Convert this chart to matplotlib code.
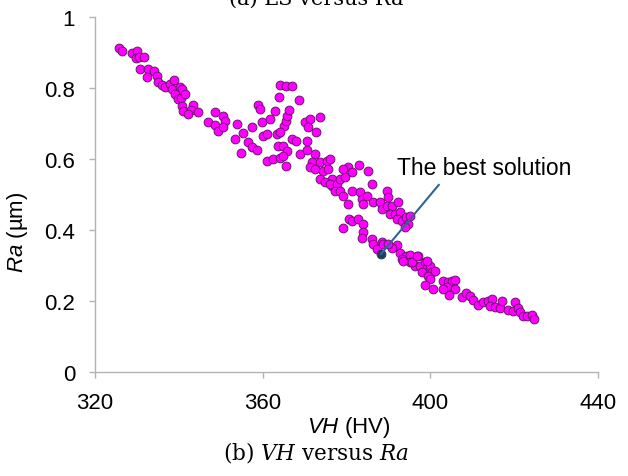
import matplotlib
matplotlib.use("Agg")
import matplotlib.pyplot as plt

plt.rcParams['font.family'] = ['Liberation Sans', 'DejaVu Sans']
plt.rcParams['mathtext.fontset'] = 'custom'
plt.rcParams['mathtext.it'] = 'Liberation Sans:italic'
plt.rcParams['mathtext.rm'] = 'Liberation Sans'

# Pareto solutions: Vickers hardness VH (HV) vs roughness Ra (um)
vh = [325.7, 326.4, 328.9, 330.1, 329.8, 330.5, 331.7, 330.7, 332.6, 334.1,
      332.4, 334.8, 335.0, 336.0, 336.7, 337.8, 338.8, 338.3, 340.3, 340.7,
      339.1, 339.8, 340.5, 341.5, 340.7, 343.4, 342.9, 341.0, 342.2,
      344.6, 348.6, 350.6, 351.1, 346.9, 348.6, 349.4, 350.6, 358.8, 359.3,
      359.8, 361.7, 363.0, 365.1, 365.6, 365.8, 366.2, 363.9, 364.2, 365.6,
      367.0, 368.7, 353.9, 357.5, 370.1, 371.3, 370.8, 373.6,
      353.4, 355.3, 354.8, 356.5, 357.5, 358.6, 360.0, 361.0, 363.4, 364.2,
      363.7, 364.9, 365.8, 367.0, 367.9, 370.6, 372.8, 361.0, 362.5, 364.2,
      364.9, 365.6, 368.9, 370.6, 372.5, 371.8, 371.3, 372.5, 373.6, 375.3,
      376.1, 374.4, 373.6, 375.6, 376.5, 376.5, 374.9, 376.1, 377.8, 378.5,
      379.7, 380.4, 379.2, 377.3, 378.5, 379.2, 380.4, 380.6, 379.2,
      381.3, 383.0, 385.2, 386.1, 381.3, 383.2, 383.7, 383.9, 384.9, 386.4,
      388.0, 389.7, 389.9, 388.4, 389.7, 390.9, 390.4, 392.3, 391.6, 392.8,
      392.1, 393.3, 394.2, 394.7, 394.0, 395.2, 381.3, 382.7, 383.9, 383.9,
      383.7, 386.1, 386.4, 388.4, 387.3,
      388.7, 392.1, 390.9, 392.8, 394.2, 395.2, 393.3, 395.2, 397.0, 396.3,
      397.5, 398.7, 399.2, 400.0, 400.4, 398.0, 401.2, 399.5, 400.0, 398.7,
      400.7, 403.0, 404.2, 405.2, 405.9, 404.0, 405.9, 404.5, 403.0, 407.6,
      408.5, 409.4, 410.2, 411.4, 412.6, 413.8, 414.8, 414.3, 415.4, 416.6,
      417.1, 418.5, 419.7, 420.2, 420.9, 421.4, 422.1, 423.0, 424.2, 424.7,
      395.6, 399.2, 396.8, 389.9, 393.5]
ra = [0.913, 0.904, 0.899, 0.904, 0.885, 0.887, 0.887, 0.854, 0.854, 0.848,
      0.831, 0.834, 0.817, 0.808, 0.803, 0.811, 0.823, 0.797, 0.803, 0.797,
      0.783, 0.769, 0.772, 0.783, 0.749, 0.752, 0.738, 0.735, 0.727,
      0.732, 0.732, 0.721, 0.707, 0.704, 0.696, 0.679, 0.690, 0.752, 0.741,
      0.704, 0.713, 0.735, 0.693, 0.707, 0.721, 0.738, 0.775, 0.808, 0.806,
      0.806, 0.766, 0.699, 0.690, 0.704, 0.713, 0.690, 0.718,
      0.656, 0.673, 0.617, 0.648, 0.634, 0.625, 0.665, 0.670, 0.670, 0.676,
      0.637, 0.637, 0.623, 0.656, 0.651, 0.651, 0.676, 0.594, 0.600, 0.603,
      0.608, 0.580, 0.614, 0.625, 0.614, 0.592, 0.577, 0.572, 0.592, 0.594,
      0.600, 0.566, 0.544, 0.572, 0.544, 0.524, 0.535, 0.530, 0.530, 0.544,
      0.549, 0.577, 0.572, 0.510, 0.510, 0.496, 0.473, 0.431, 0.406,
      0.563, 0.583, 0.566, 0.530, 0.510, 0.507, 0.487, 0.473, 0.496, 0.479,
      0.479, 0.510, 0.493, 0.459, 0.468, 0.468, 0.445, 0.479, 0.445, 0.451,
      0.431, 0.425, 0.437, 0.417, 0.408, 0.439, 0.425, 0.431, 0.417, 0.394,
      0.377, 0.375, 0.361, 0.366, 0.346,
      0.361, 0.358, 0.349, 0.335, 0.327, 0.330, 0.318, 0.310, 0.327, 0.299,
      0.299, 0.310, 0.293, 0.299, 0.282, 0.282, 0.285, 0.270, 0.262, 0.245,
      0.234, 0.256, 0.254, 0.256, 0.259, 0.239, 0.234, 0.217, 0.234, 0.211,
      0.223, 0.214, 0.203, 0.189, 0.197, 0.200, 0.206, 0.186, 0.183, 0.180,
      0.200, 0.175, 0.172, 0.197, 0.180, 0.169, 0.158, 0.158, 0.161, 0.149,
      0.310, 0.313, 0.327, 0.361, 0.313]

best_vh = [388.2]
best_ra = [0.332]
label_pos = (392.1, 0.575)
line_end = (402.0, 0.527)

x_ticks = [320, 360, 400, 440]
y_ticks = [0, 0.2, 0.4, 0.6, 0.8, 1]
y_tick_labels = ['0', '0.2', '0.4', '0.6', '0.8', '1']

fig = plt.figure(figsize=(6.28, 4.77), dpi=100)
ax = fig.add_axes([0.1513, 0.2180, 0.8010, 0.7443])

ax.scatter(vh, ra, s=40, c='#ff00ff', edgecolors='#6e1470', linewidths=0.7, zorder=3)
ax.scatter(best_vh, best_ra, s=40, c='#1f3d5c', edgecolors='#1f3d5c', linewidths=0.7, zorder=4)
ax.plot([best_vh[0], line_end[0]], [best_ra[0], line_end[1]], color='#2f6496', lw=1.5, zorder=5)
ax.text(label_pos[0], label_pos[1], 'The best solution', fontsize=16.5, ha='left', va='center', zorder=6)

ax.set_xlim(320, 440)
ax.set_ylim(0, 1)
ax.set_xticks(x_ticks)
ax.set_yticks(y_ticks)
ax.set_yticklabels(y_tick_labels)

for s in ['top', 'right']:
    ax.spines[s].set_visible(False)
for s in ['left', 'bottom']:
    ax.spines[s].set_color('#b3b3b3')
    ax.spines[s].set_linewidth(1.0)
ax.tick_params(axis='both', colors='#b3b3b3', labelcolor='black', labelsize=16,
               length=4.3, width=1.0, direction='out', pad=10)
ax.patch.set_alpha(0)

ax.set_ylabel(r'$\it{Ra}$ (µm)', fontsize=16)
ax.yaxis.set_label_coords(-0.129, 0.397)
ax.set_xlabel(r'$\it{VH}$ (HV)', fontsize=16)
ax.xaxis.set_label_coords(0.505, -0.118)

fig.text(0.503, 0.052, '(b) $\\it{VH}$ versus $\\it{Ra}$', fontsize=15.5, ha='center', va='center',
         family='DejaVu Serif', math_fontfamily='dejavuserif')
fig.text(0.503, 0.989, '(a) LS versus Ra', fontsize=15, ha='center', va='baseline',
         family='DejaVu Serif')

fig.savefig('out.png', dpi=100)
